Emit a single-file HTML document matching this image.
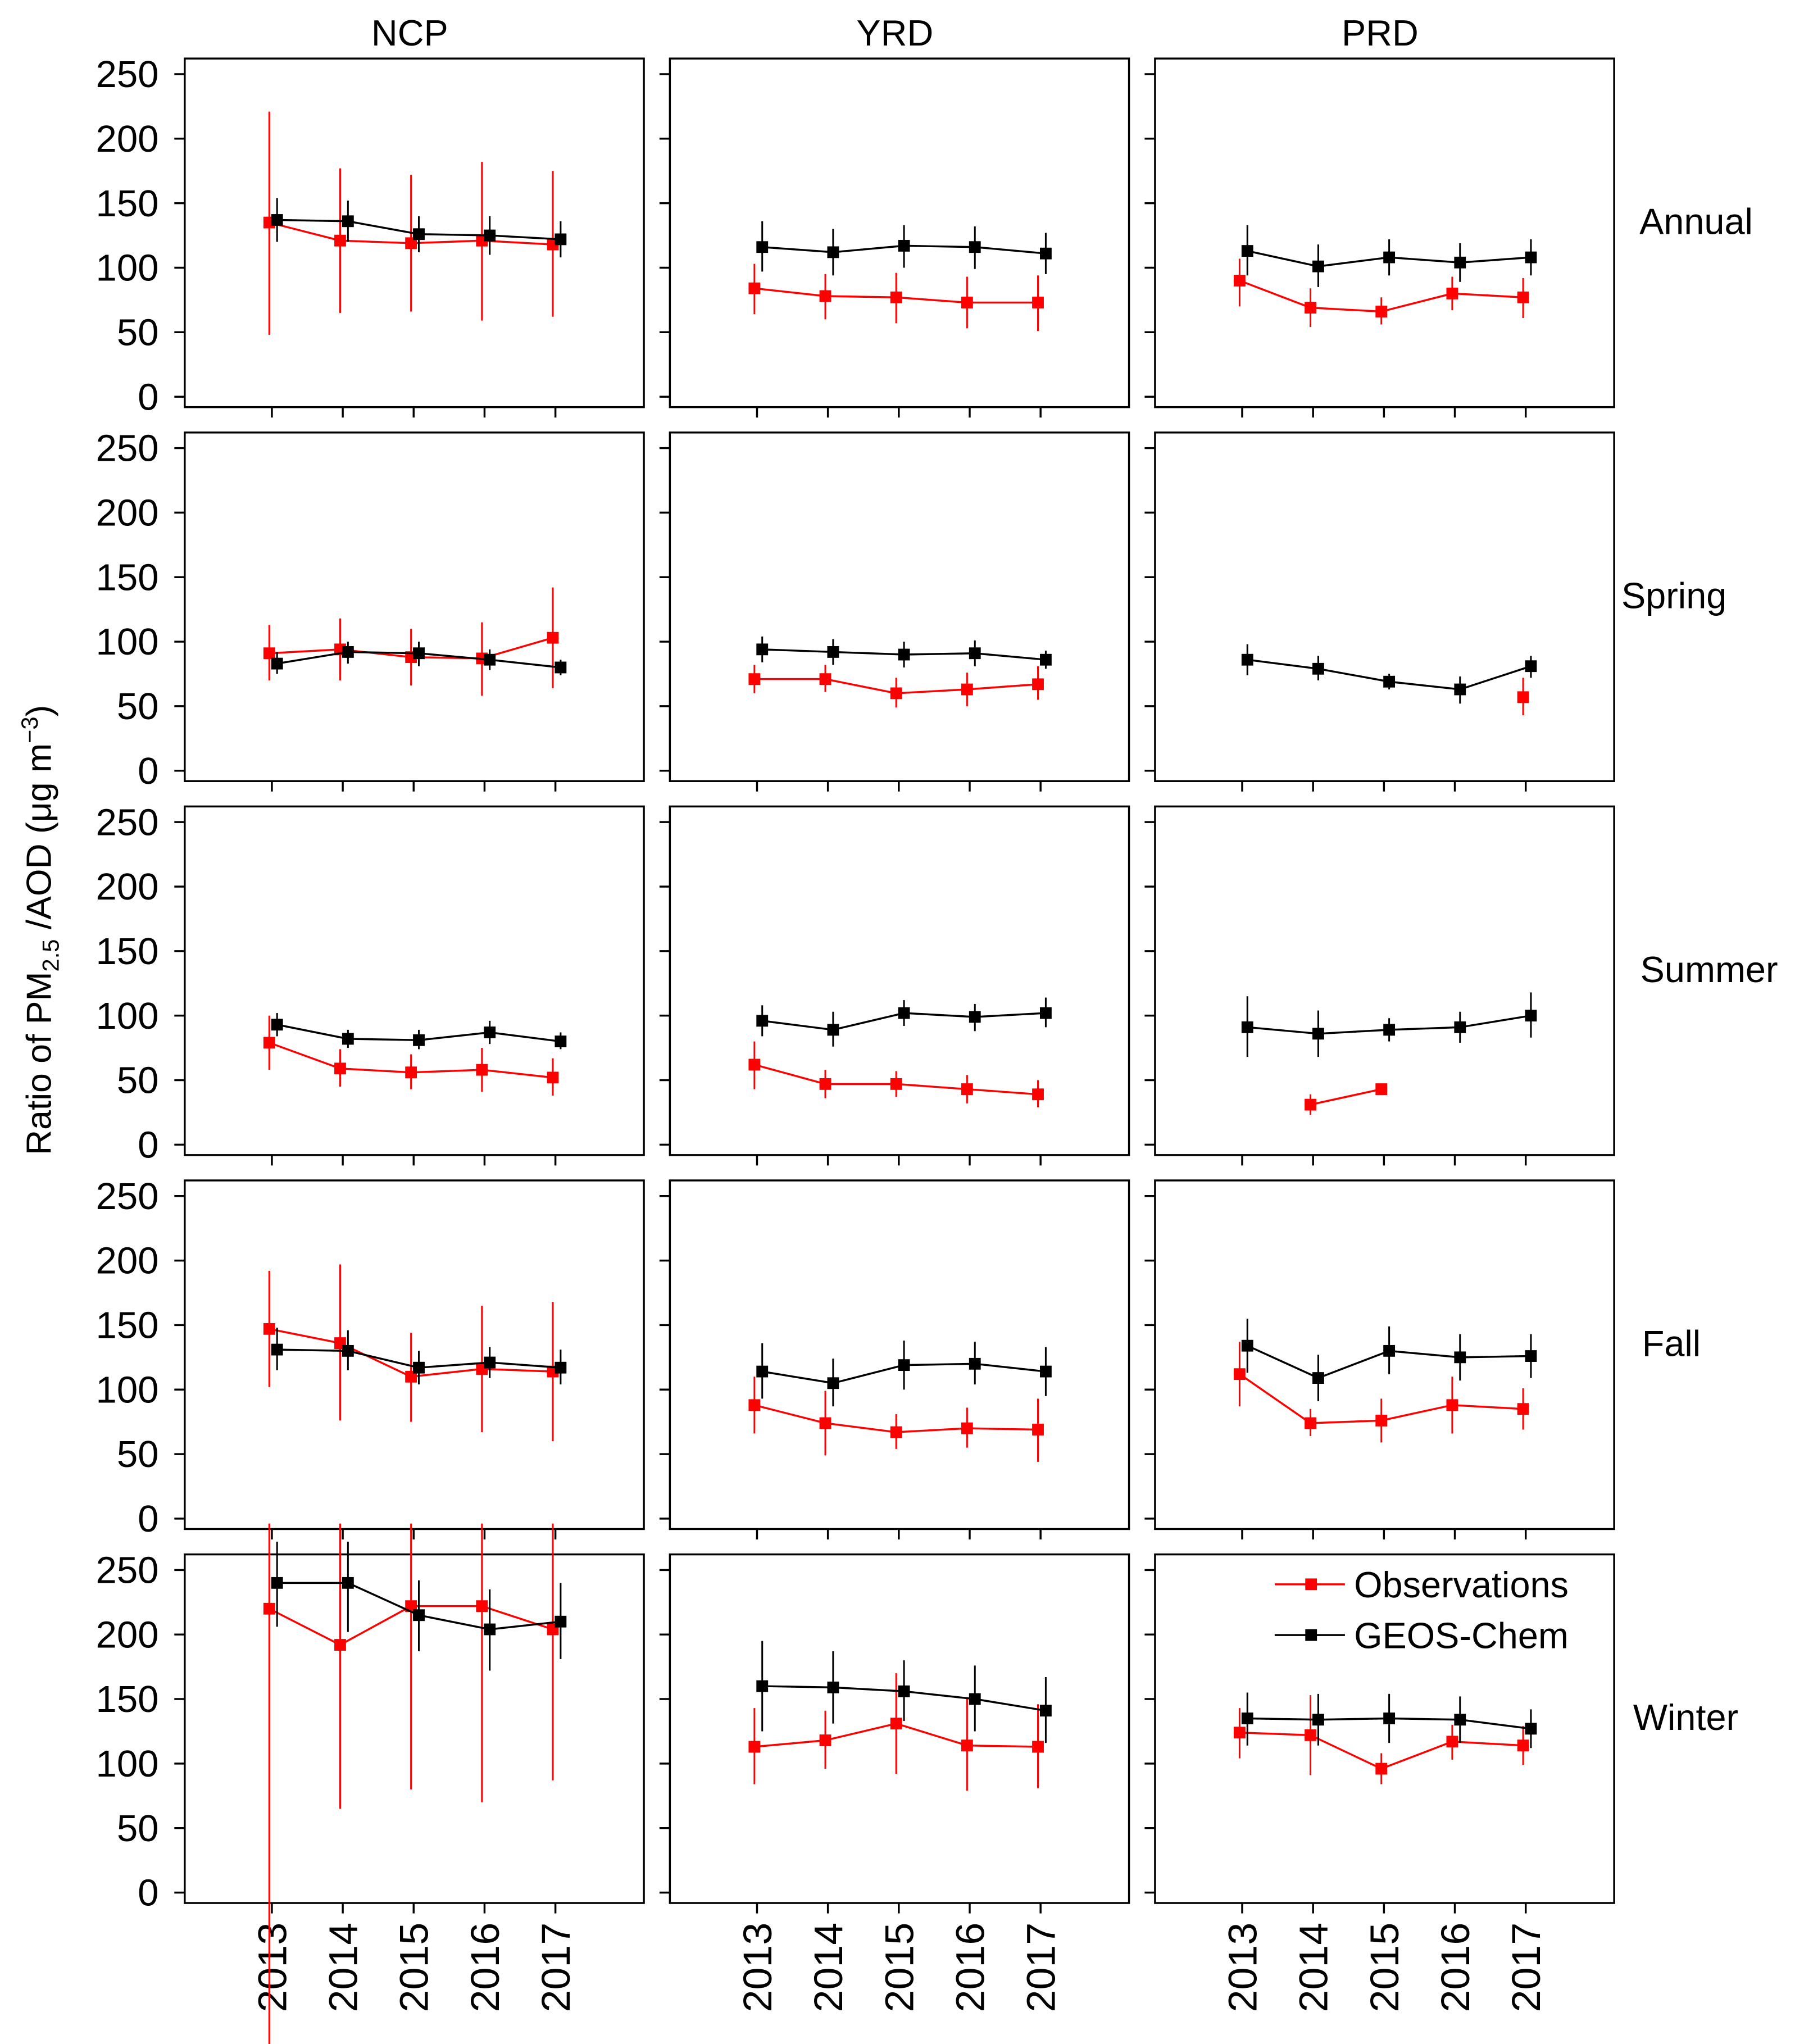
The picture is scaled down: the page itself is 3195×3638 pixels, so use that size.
<!DOCTYPE html>
<html><head><meta charset="utf-8"><style>
html,body{margin:0;padding:0;background:#fff}
svg{display:block}
text{font-family:"Liberation Sans",Arial,sans-serif;fill:#000}
</style></head><body>
<svg id="chart" width="3195" height="3638" viewBox="0 0 1380 1571.4" xmlns="http://www.w3.org/2000/svg">
</svg>
<script>
const years = [2013, 2014, 2015, 2016, 2017];
const regions = ["NCP", "YRD", "PRD"];
const seasons = ["Annual", "Spring", "Summer", "Fall", "Winter"];
const yTicks = [0, 50, 100, 150, 200, 250];
const obsAnnual = [
 [[135,48,221],[121,65,177],[119,66,172],[121,59,182],[118,62,175]],
 [[84,64,103],[78,60,95],[77,57,96],[73,53,93],[73,51,94]],
 [[90,70,107],[69,54,84],[66,56,77],[80,67,93],[77,61,92]]];
const gcAnnual = [
 [[137,120,154],[136,120,152],[126,112,140],[125,110,140],[122,108,136]],
 [[116,97,136],[112,94,130],[117,100,133],[116,99,132],[111,95,127]],
 [[113,94,133],[101,85,118],[108,94,122],[104,89,119],[108,94,122]]];
const obsSpring = [
 [[91,70,113],[94,70,118],[88,66,110],[87,58,115],[103,64,142]],
 [[71,60,82],[71,61,82],[60,49,72],[63,50,76],[67,55,81]],
 [null,null,null,null,[57,43,72]]];
const gcSpring = [
 [[83,75,92],[92,83,100],[91,81,100],[86,78,94],[80,74,86]],
 [[94,84,104],[92,82,102],[90,80,100],[91,81,101],[86,79,93]],
 [[86,74,98],[79,70,89],[69,63,75],[63,52,73],[81,72,89]]];
const obsSummer = [
 [[79,58,100],[59,45,74],[56,43,70],[58,41,75],[52,38,67]],
 [[62,43,80],[47,36,58],[47,37,57],[43,32,54],[39,29,50]],
 [null,[31,23,39],[43,40,46],null,null]];
const gcSummer = [
 [[93,84,102],[82,75,89],[81,74,89],[87,78,96],[80,74,87]],
 [[96,84,108],[89,76,103],[102,92,112],[99,88,109],[102,91,114]],
 [[91,68,115],[86,68,104],[89,80,98],[91,79,103],[100,83,118]]];
const obsFall = [
 [[147,102,192],[136,76,197],[110,75,144],[116,67,165],[114,60,168]],
 [[88,66,110],[74,49,99],[67,54,81],[70,55,86],[69,44,93]],
 [[112,87,137],[74,64,85],[76,59,93],[88,66,110],[85,69,101]]];
const gcFall = [
 [[131,115,148],[130,115,146],[117,104,130],[121,109,133],[117,104,131]],
 [[114,93,136],[105,87,124],[119,100,138],[120,104,137],[114,95,133]],
 [[134,113,155],[109,91,127],[130,112,149],[125,107,143],[126,109,143]]];
const obsWinter = [
 [[220,-118,286],[192,65,286],[222,80,286],[222,70,286],[204,87,286]],
 [[113,84,143],[118,96,141],[131,92,170],[114,79,150],[113,81,146]],
 [[124,104,143],[122,91,153],[96,84,108],[117,103,130],[114,99,129]]];
const gcWinter = [
 [[240,206,272],[240,202,272],[215,187,242],[204,172,235],[210,181,240]],
 [[160,125,195],[159,131,187],[156,133,180],[150,125,176],[141,116,167]],
 [[135,114,155],[134,114,154],[135,116,154],[134,116,152],[127,112,142]]];
const obsAll = [obsAnnual, obsSpring, obsSummer, obsFall, obsWinter];
const gcAll = [gcAnnual, gcSpring, gcSummer, gcFall, gcWinter];

const NS = "http://www.w3.org/2000/svg";
const svg = document.getElementById("chart");
function mk(tag, attrs, parent) {
  const e = document.createElementNS(NS, tag);
  for (const k in attrs) e.setAttribute(k, attrs[k]);
  (parent || svg).appendChild(e);
  return e;
}
const colX = [142, 515, 888], panelW = 353;
const rowY0 = 45, rowStep = 287.5, panelH = 268;
function yScale(r, v) { return rowY0 + r * rowStep + 260 - v * (248 / 250); }
function xScale(c, i) { return colX[c] + 67 + i * 54.5; }

for (let c = 0; c < 3; c++) {
  const t = mk("text", {x: colX[c] + 173, y: 35, "text-anchor": "middle", "font-size": 28});
  t.textContent = regions[c];
  
  
}
const rowLabelX = [1304, 1287, 1314, 1285, 1296];
for (let r = 0; r < 5; r++) {
  const t = mk("text", {x: rowLabelX[r], y: rowY0 + r * rowStep + 135, "text-anchor": "middle", "font-size": 28});
  t.textContent = seasons[r];
  
  
}
const yt = mk("text", {x: 0, y: 0, transform: "translate(39,715) rotate(-90)", "text-anchor": "middle", "font-size": 27});


yt.innerHTML = 'Ratio of PM<tspan font-size="18" dy="6">2.5</tspan><tspan dy="-6"> /AOD (μg m</tspan><tspan font-size="18" dy="-10">−3</tspan><tspan dy="10">)</tspan>';

for (let r = 0; r < 5; r++) {
  for (let c = 0; c < 3; c++) {
    const g = mk("g", {});
    
    
    const top = rowY0 + r * rowStep;
    mk("rect", {x: colX[c], y: top, width: panelW, height: panelH, fill: "none", stroke: "#000", "stroke-width": 1.5}, g);
    yTicks.forEach(v => {
      const y = yScale(r, v);
      mk("line", {x1: colX[c] - 8, x2: colX[c], y1: y, y2: y, stroke: "#000", "stroke-width": 1.5}, g);
      if (c === 0) {
        const t = mk("text", {x: colX[c] - 20, y: y + 10, "text-anchor": "end", "font-size": 29}, g);
        t.textContent = v;
      }
    });
    years.forEach((yr, i) => {
      const x = xScale(c, i);
      mk("line", {x1: x, x2: x, y1: top + panelH, y2: top + panelH + 8, stroke: "#000", "stroke-width": 1.5}, g);
      if (r === 4) {
        const t = mk("text", {x: 0, y: 0, transform: `translate(${x + 11},1478) rotate(-90)`, "text-anchor": "end", "font-size": 31}, g);
        t.textContent = yr;
      }
    });
    const series = [[obsAll[r][c], "#ff0000", -2, "obs"], [gcAll[r][c], "#000000", 4, "geos-chem"]];
    series.forEach(([data, col, off, nm]) => {
      let seg = [];
      const segs = [];
      data.forEach((d, i) => {
        if (d) seg.push([xScale(c, i) + off, yScale(r, d[0])]);
        else { if (seg.length) segs.push(seg); seg = []; }
      });
      if (seg.length) segs.push(seg);
      segs.forEach(s => {
        if (s.length > 1) {
          const pl = mk("polyline", {points: s.map(p => p.join(",")).join(" "), fill: "none", stroke: col, "stroke-width": 1.5}, g);
          
          
        }
      });
      data.forEach((d, i) => {
        if (!d) return;
        const x = xScale(c, i) + off;
        const eb = mk("line", {x1: x, x2: x, y1: yScale(r, d[1]), y2: yScale(r, d[2]), stroke: col, "stroke-width": 1.3}, g);
        
        
        const m = mk("rect", {x: x - 4.5, y: yScale(r, d[0]) - 4.5, width: 9, height: 9, fill: col}, g);
        
        
      });
    });
  }
}
const lg = mk("g", {});


[["Observations", "#ff0000", 1218], ["GEOS-Chem", "#000000", 1257]].forEach(([lab, col, y]) => {
  const e = mk("g", {}, lg);
  
  
  mk("line", {x1: 980, x2: 1034, y1: y, y2: y, stroke: col, "stroke-width": 1.5}, e);
  mk("rect", {x: 1003.5, y: y - 4.5, width: 9, height: 9, fill: col}, e);
  const t = mk("text", {x: 1041, y: y + 10, "font-size": 28}, e);
  t.textContent = lab;
});
</script>
</body></html>
